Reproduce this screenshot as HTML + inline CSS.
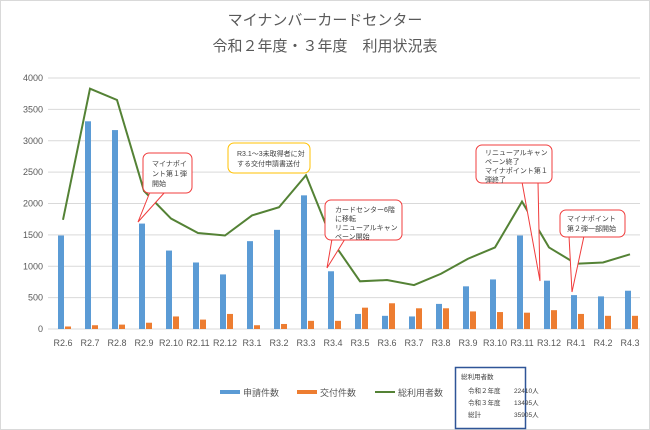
<!DOCTYPE html>
<html><head><meta charset="utf-8"><style>
body{margin:0;background:#fff;}
svg{display:block;font-family:"Liberation Sans","Noto Sans CJK JP",sans-serif;}
</style></head><body>
<svg width="650" height="430">
<rect x="0.5" y="0.5" width="649" height="429" fill="#fff" stroke="#d9d9d9"/>
<text x="325" y="25" text-anchor="middle" font-size="15" fill="#595959">マイナンバーカードセンター</text>
<text x="325" y="51" text-anchor="middle" font-size="15" fill="#595959">令和２年度・３年度　利用状況表</text>
<g id="grid"></g><g id="bars"></g><g id="line"></g><g id="xl"></g>
<g font-size="7" fill="#404040">
<g>
<polyline points="150,192 138,222 165,192" fill="#fff" stroke="#f03c3c"/>
<rect x="143" y="153" width="49" height="40" rx="6" fill="#fff" stroke="#f03c3c"/>
<text x="152" y="166">マイナポイ</text><text x="152" y="176">ント第１弾</text><text x="152" y="186">開始</text></g>
<g>
<rect x="228" y="143" width="82" height="30" rx="6" fill="#fff" stroke="#ffc000"/>
<text x="237" y="156">R3.1～3未取得者に対</text><text x="237" y="166">する交付申請書送付</text></g>
<g>
<polyline points="332,239 327,268 345,239" fill="#fff" stroke="#f03c3c"/>
<rect x="325" y="200" width="77" height="40" rx="6" fill="#fff" stroke="#f03c3c"/>
<text x="335" y="212">カードセンター6階</text><text x="335" y="221">に移転</text><text x="335" y="230">リニューアルキャン</text><text x="335" y="239">ペーン開始</text></g>
<g>
<polyline points="522,182 540,281 538,182" fill="#fff" stroke="#f03c3c"/>
<rect x="476" y="145" width="76" height="38" rx="6" fill="#fff" stroke="#f03c3c"/>
<text x="485" y="155">リニューアルキャン</text><text x="485" y="164">ペーン終了</text><text x="485" y="173">マイナポイント第１</text><text x="485" y="182">弾終了</text></g>
<g>
<polyline points="569,236 572,292 584,236" fill="#fff" stroke="#f03c3c"/>
<rect x="560" y="210" width="65" height="27" rx="6" fill="#fff" stroke="#f03c3c"/>
<text x="567" y="221">マイナポイント</text><text x="567" y="231">第２弾一部開始</text></g>
</g>
<g font-size="9" fill="#595959">
<rect x="220" y="390" width="20" height="4" fill="#5b9bd5"/><text x="243" y="396">申請件数</text>
<rect x="297" y="390" width="20" height="4" fill="#ed7d31"/><text x="320" y="396">交付件数</text>
<line x1="375" y1="392" x2="395" y2="392" stroke="#548235" stroke-width="2"/><text x="398" y="396">総利用者数</text>
</g>
<g font-size="6.5" fill="#404040">
<rect x="455.5" y="367.5" width="70" height="61" fill="#fff" stroke="#2f5597" stroke-width="1.5"/>
<text x="461" y="379">総利用者数</text>
<text x="468" y="393">令和２年度</text><text x="514" y="393">22410人</text>
<text x="468" y="405">令和３年度</text><text x="514" y="405">13495人</text>
<text x="468" y="417">総計</text><text x="514" y="417">35905人</text>
</g>
</svg>
<script>
const categories=["R2.6","R2.7","R2.8","R2.9","R2.10","R2.11","R2.12","R3.1","R3.2","R3.3","R3.4","R3.5","R3.6","R3.7","R3.8","R3.9","R3.10","R3.11","R3.12","R4.1","R4.2","R4.3"];
const applications=[1490,3310,3170,1680,1250,1060,870,1400,1580,2130,920,240,210,200,400,680,790,1490,770,540,520,610];
const issued=[40,60,70,100,200,150,240,60,80,130,130,340,410,330,330,280,270,260,300,240,210,210];
const totalUsers=[1740,3830,3650,2200,1760,1530,1490,1810,1940,2450,1380,760,780,700,880,1120,1300,2030,1300,1040,1060,1190];
const yTicks=[0,500,1000,1500,2000,2500,3000,3500,4000];
const NS="http://www.w3.org/2000/svg";
const y=v=>329-v*(251/4000);
const x=i=>62+i*27;
function mk(t,a,p){const e=document.createElementNS(NS,t);for(const k in a)e.setAttribute(k,a[k]);document.getElementById(p).appendChild(e);return e;}
yTicks.forEach(v=>{
 const l=mk('line',{x1:48,x2:640,y1:y(v),y2:y(v),stroke:'#d9d9d9'},'grid');
 
 
 const t=mk('text',{x:43,y:y(v)+3,'text-anchor':'end','font-size':9,fill:'#595959'},'grid');t.textContent=v;
 
 
});
categories.forEach((c,i)=>{
 const b=mk('rect',{x:x(i)-4,y:y(applications[i]),width:6,height:329-y(applications[i]),fill:'#5b9bd5'},'bars');
 
 
 const o=mk('rect',{x:x(i)+3,y:y(issued[i]),width:6,height:329-y(issued[i]),fill:'#ed7d31'},'bars');
 
 
 const t=mk('text',{x:x(i)+1,y:346,'text-anchor':'middle','font-size':9,fill:'#595959'},'xl');t.textContent=c;
 
 
});
const p=mk('polyline',{points:totalUsers.map((v,i)=>(x(i)+1)+','+y(v)).join(' '),fill:'none',stroke:'#548235','stroke-width':2},'line');


</script>
</body></html>
